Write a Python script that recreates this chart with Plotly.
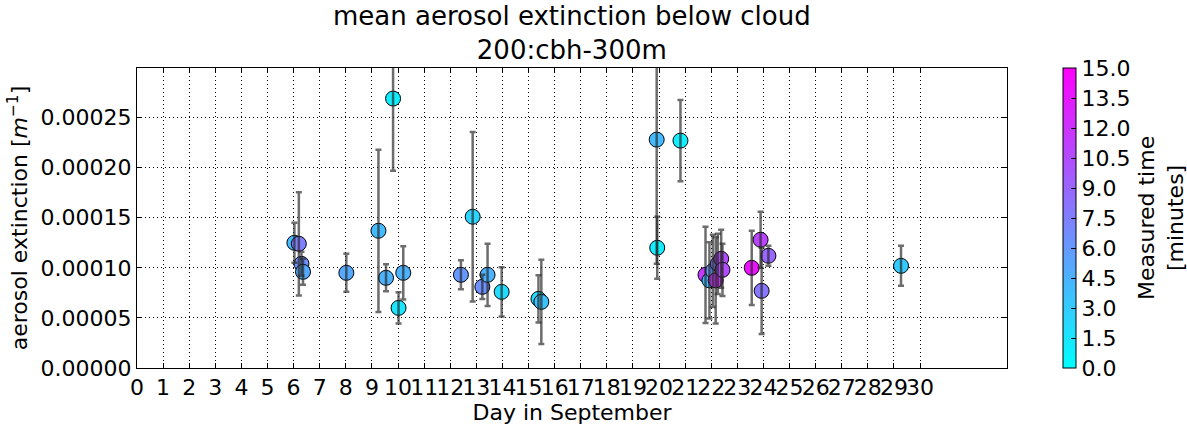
import plotly.graph_objects as go

day = [6.03, 6.20, 6.30, 6.36, 8.02, 9.25, 9.81, 9.54, 10.02, 10.20,
       12.41, 12.86, 13.23, 13.43, 13.97, 15.38, 15.49, 19.91, 19.93, 20.82,
       21.78, 21.93, 22.06, 22.17, 22.25, 22.38, 22.43, 23.55, 23.89, 23.93,
       24.19, 29.27]
ext = [1.25e-4, 1.24e-4, 1.04e-4, 9.6e-5, 9.5e-5, 1.37e-4, 2.69e-4, 9.0e-5, 6.0e-5, 9.5e-5,
       9.3e-5, 1.51e-4, 8.1e-5, 9.3e-5, 7.6e-5, 6.9e-5, 6.6e-5, 2.28e-4, 1.20e-4, 2.27e-4,
       9.3e-5, 8.75e-5, 9.7e-5, 8.75e-5, 1.04e-4, 1.09e-4, 9.8e-5, 1.00e-4, 1.28e-4, 7.7e-5,
       1.12e-4, 1.02e-4]
err = [2.0e-5, 5.15e-5, 1.2e-5, 1.3e-5, 1.9e-5, 8.1e-5, 7.2e-5, 1.35e-5, 1.55e-5, 2.65e-5,
       1.45e-5, 8.45e-5, 1.2e-5, 3.1e-5, 2.45e-5, 2.35e-5, 4.2e-5, 1.24e-4, 3.1e-5, 4.05e-5,
       4.8e-5, 3.8e-5, 3.6e-5, 4.3e-5, 3.0e-5, 2.9e-5, 2.6e-5, 3.7e-5, 2.8e-5, 4.3e-5,
       1.0e-5, 2.0e-5]
mtime = [4.0, 7.5, 6.5, 5.0, 5.0, 4.0, 1.0, 4.5, 1.5, 4.5,
         6.0, 2.5, 6.5, 4.5, 2.0, 2.0, 3.5, 4.0, 1.0, 1.0,
         11.5, 4.0, 6.0, 12.0, 7.5, 10.5, 10.5, 14.0, 11.0, 8.0,
         9.0, 3.0]

xticks = list(range(0, 31))
yticks = [0, 0.00005, 0.0001, 0.00015, 0.0002, 0.00025]
cbticks = [0, 1.5, 3, 4.5, 6, 7.5, 9, 10.5, 12, 13.5, 15]

FONT = "DejaVu Sans"
FS = 22

fig = go.Figure()
fig.add_trace(go.Scatter(
    x=day, y=ext, mode="markers",
    marker=dict(size=15, color=mtime, cmin=0, cmax=15,
                colorscale=[[0, "rgb(0,255,255)"], [1, "rgb(255,0,255)"]],
                line=dict(color="black", width=1),
                colorbar=dict(x=(1063 - 137) / 870, xanchor="left", xref="paper", xpad=0,
                              y=0.5, yanchor="middle", len=1.0, lenmode="fraction", ypad=0,
                              thickness=13, outlinecolor="black", outlinewidth=1,
                              tickvals=cbticks, ticktext=[f"{v:.1f}" for v in cbticks],
                              ticks="inside", ticklen=5, tickcolor="black",
                              tickfont=dict(size=FS, family=FONT, color="black"))),
    showlegend=False, hoverinfo="skip"))
fig.add_trace(go.Scatter(
    x=day, y=ext, mode="markers",
    marker=dict(size=15, color="rgba(0,0,0,0)"),
    error_y=dict(type="data", array=err, visible=True,
                 color="rgba(40,40,40,0.68)", thickness=2.5, width=3),
    showlegend=False, hoverinfo="skip"))

axis_common = dict(showline=True, linecolor="black", linewidth=1, mirror="ticks",
                   ticks="inside", ticklen=5, tickcolor="black",
                   showgrid=True, gridcolor="black", griddash="1px,3px", gridwidth=1,
                   zeroline=False, tickfont=dict(size=FS, family=FONT, color="black"))

fig.update_xaxes(range=[0, 33.33], tickvals=xticks, ticktext=[str(v) for v in xticks],
                 tickangle=0,
                 title=dict(text="Day in September", font=dict(size=FS, family=FONT, color="black"),
                            standoff=2),
                 **axis_common)
fig.update_yaxes(range=[0, 0.0002995], tickvals=yticks, ticktext=[f"{v:.5f}" for v in yticks],
                 title=dict(text="aerosol extinction [<i>m</i><sup>−1</sup>]",
                            font=dict(size=FS, family=FONT, color="black"), standoff=6),
                 **axis_common)

fig.add_annotation(text="Measured time<br>[minutes]", textangle=-90,
                   xref="paper", yref="paper", x=(1161 - 137) / 870, y=0.5,
                   xanchor="center", yanchor="middle", showarrow=False,
                   font=dict(size=FS, family=FONT, color="black"))

fig.add_annotation(text="mean aerosol extinction below cloud<br>200:cbh-300m",
                   xref="paper", yref="paper", x=0.5, y=1 + 1 / 305,
                   xanchor="center", yanchor="bottom", showarrow=False,
                   font=dict(size=26, family=FONT, color="black"))

fig.update_layout(
    width=1187, height=430,
    margin=dict(l=137, r=180, t=68, b=57),
    paper_bgcolor="white", plot_bgcolor="white",
    font=dict(family=FONT, color="black"),
)

fig.write_html("out.html")
